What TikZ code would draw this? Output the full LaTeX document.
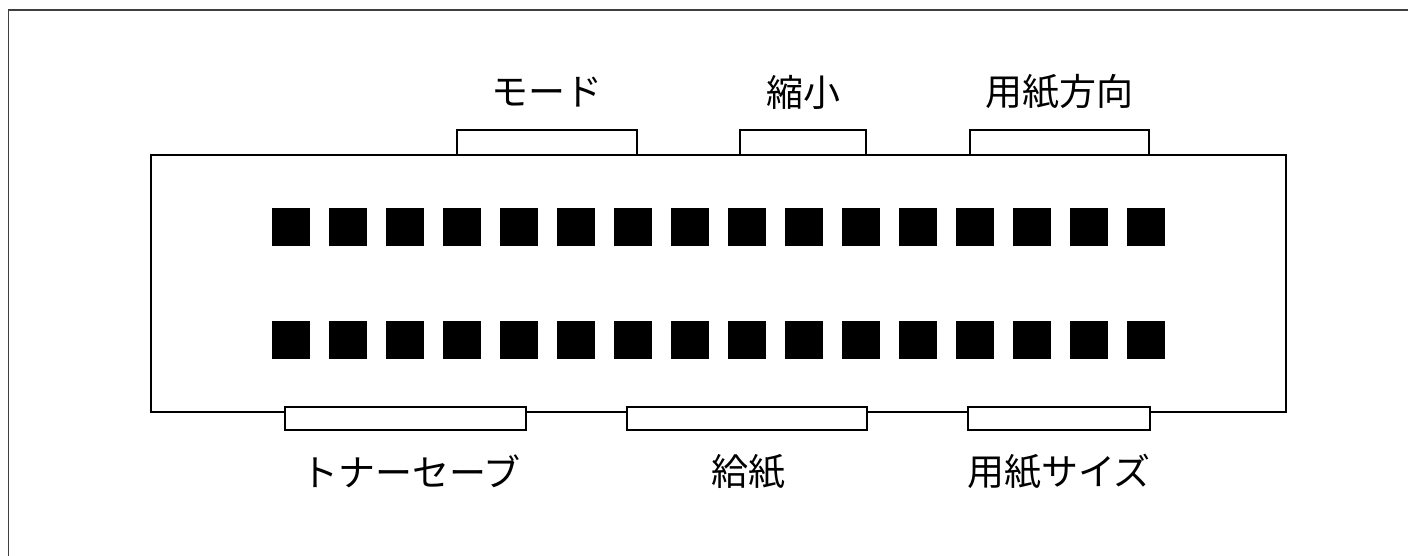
\documentclass[tikz,border=0pt]{standalone}
\usepackage{fontspec}
\newfontfamily\jpfont{Noto Sans CJK JP}
\begin{document}
\begin{tikzpicture}[
    x=1pt,y=1pt,
    panel/.style={draw=black,line width=2.2pt},
    key/.style={rectangle,fill=black,inner sep=0,minimum size=38pt},
    tab/.style={rectangle,draw=black,fill=white,line width=1.6pt,inner sep=0},
    lbl/.style={inner sep=0,font=\jpfont\fontsize{37pt}{40pt}\selectfont}
    ]
    \useasboundingbox (0,0) rectangle (1408,555);
    \clip (0,0) rectangle (1408,555);

    % frame
    \draw [draw=black!75,line width=1.4pt] (8.5,-10) rectangle (1420,545);

    % panel
    \node[panel,rectangle,inner sep=0,minimum width=1135pt,minimum height=257pt] (P) at (718.5,271.5) {};

    % keys
    \foreach \i in {0,...,15} {
        \node[key] (k1\i) at (291+57*\i,328) {};
        \node[key] (k2\i) at (291+57*\i,215) {};
    }

    % top tabs
    \node[tab,minimum width=180pt,minimum height=25pt] (mode) at (547,412.5) {};
    \node[tab,minimum width=126pt,minimum height=25pt] (shuku) at (803,412.5) {};
    \node[tab,minimum width=179pt,minimum height=25pt] (houkou) at (1059.5,412.5) {};

    % bottom tabs
    \node[tab,minimum width=241pt,minimum height=23pt] (toner) at (405.5,136.5) {};
    \node[tab,minimum width=240pt,minimum height=23pt] (kyushi) at (747,136.5) {};
    \node[tab,minimum width=182pt,minimum height=23pt] (size) at (1059,136.5) {};

    % labels
    \node[lbl] (modelbl) at (547,463) {モード};
    \node[lbl] (shukulbl) at (803,463) {縮小};
    \node[lbl] (houkoulbl) at (1059.5,463) {用紙方向};

    \node[lbl] (tonerlbl) at (411,83.5) {トナーセーブ};
    \node[lbl] (kyushilbl) at (748,83.5) {給紙};
    \node[lbl] (sizelbl) at (1059,83.5) {用紙サイズ};
\end{tikzpicture}
\end{document}
